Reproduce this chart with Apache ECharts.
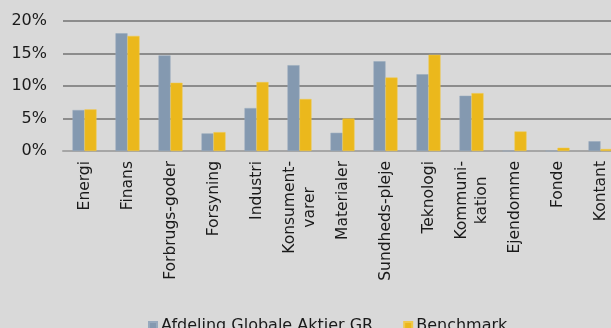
<!DOCTYPE html>
<html>
<head>
<meta charset="utf-8">
<script src="https://cdn.jsdelivr.net/npm/echarts@6/dist/echarts.min.js"></script>
<style>
  html, body { margin: 0; padding: 0; background: #d9d9d9; overflow: hidden; }
  #wrap { width: 611px; height: 328px; overflow: hidden; }
  /* the plot runs a little past the right edge, so the canvas is wider than the frame */
  #chart { width: 640px; height: 340px; }
</style>
</head>
<body>
<div id="wrap"><div id="chart"></div></div>
<script>
// Sector weights (%) of the fund versus its benchmark
const categories = [
  'Energi', 'Finans', 'Forbrugs-goder', 'Forsyning', 'Industri',
  'Konsument-\nvarer', 'Materialer', 'Sundheds-pleje', 'Teknologi',
  'Kommuni-\nkation', 'Ejendomme', 'Fonde', 'Kontant'
];
const fundName = 'Afdeling Globale Aktier GR';
const benchName = 'Benchmark';
const fundValues = [6.3, 18.1, 14.7, 2.7, 6.6, 13.2, 2.8, 13.8, 11.8, 8.5, 0, 0, 1.5];
const benchValues = [6.4, 17.7, 10.5, 2.9, 10.6, 8.0, 5.0, 11.3, 14.8, 8.9, 3.0, 0.5, 0.3];
const yTicks = [0, 5, 10, 15, 20];

const FONT = 'DejaVu Sans, Verdana, sans-serif';

const chart = echarts.init(document.getElementById('chart'), null, { renderer: 'canvas' });

chart.setOption({
  backgroundColor: '#d9d9d9',
  animation: false,
  textStyle: { fontFamily: FONT },
  grid: { left: 63, top: 21, width: 559, height: 130, containLabel: false },
  legend: {
    left: 148,
    top: 318,
    padding: 0,
    itemWidth: 8,
    itemHeight: 8,
    itemGap: 30,
    icon: 'rect',
    textStyle: { fontFamily: FONT, fontSize: 16, color: '#1a1a1a', padding: [0, 0, 0, -1] },
    data: [fundName, benchName]
  },
  xAxis: {
    type: 'category',
    data: categories,
    axisLine: { show: true, lineStyle: { color: '#a6a6a6', width: 2 } },
    axisTick: { show: false },
    axisLabel: {
      interval: 0,
      rotate: 90,
      margin: 10,
      color: '#1a1a1a',
      fontFamily: FONT,
      fontSize: 15.5,
      lineHeight: 20,
      formatter: function (v) {
        return v.split('\n').map(function (s) { return '{c|' + s + '}'; }).join('\n');
      },
      rich: {
        c: { align: 'center', fontFamily: FONT, fontSize: 15.5, lineHeight: 20, color: '#1a1a1a' }
      }
    }
  },
  yAxis: {
    type: 'value',
    min: yTicks[0],
    max: yTicks[yTicks.length - 1],
    interval: 5,
    axisLine: { show: false },
    axisTick: { show: false },
    axisLabel: {
      margin: 16,
      color: '#1a1a1a',
      fontFamily: FONT,
      fontSize: 16,
      formatter: function (v) { return v + '%'; }
    },
    splitLine: {
      show: true,
      lineStyle: { color: '#8c8c8c', width: 2 }
    }
  },
  series: [
    {
      name: fundName,
      type: 'bar',
      data: fundValues,
      barWidth: 12,
      barGap: '0%',
      itemStyle: { color: '#8499b0', borderColor: '#97a9bd', borderWidth: 0.5 },
      z: 3
    },
    {
      name: benchName,
      type: 'bar',
      data: benchValues,
      barWidth: 12,
      barGap: '0%',
      itemStyle: { color: '#ebb81c', borderColor: '#f0c94a', borderWidth: 0.5 },
      z: 3
    }
  ]
});
</script>
</body>
</html>
